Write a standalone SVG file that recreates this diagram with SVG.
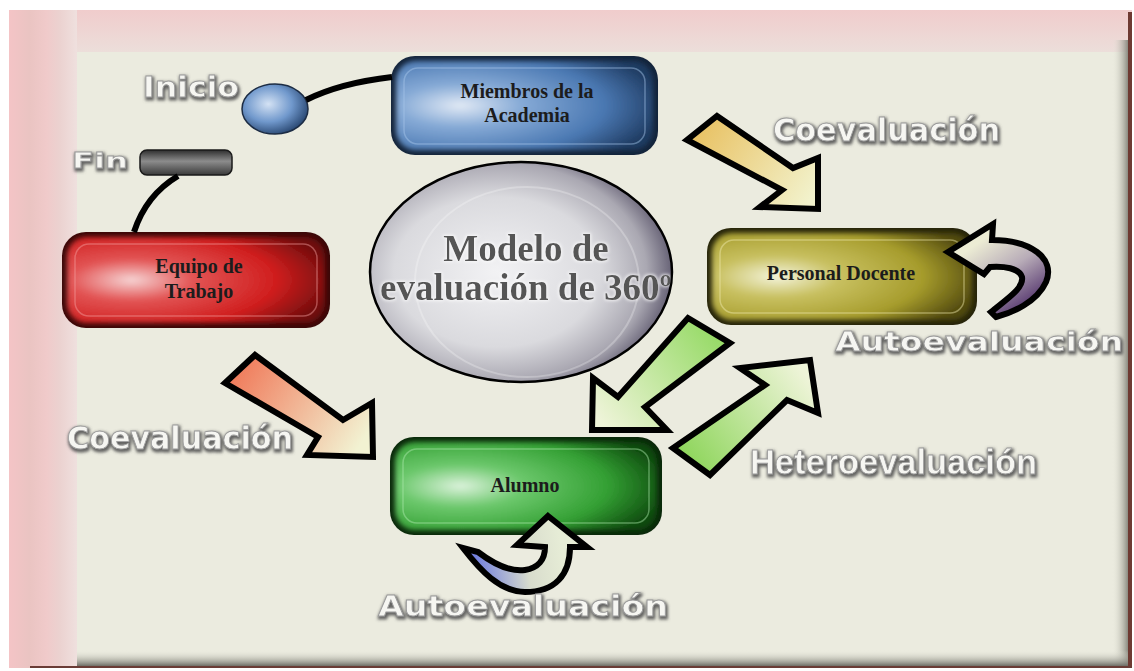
<svg xmlns="http://www.w3.org/2000/svg" width="1134" height="671" viewBox="0 0 1134 671">
<defs>
<style>
.lbl{font-family:"DejaVu Sans","Liberation Sans",sans-serif;font-weight:bold;fill:#f6f6f2;stroke:#9a9a9a;stroke-width:0.8;filter:url(#glow)}
.lbl2{font-family:"Liberation Sans",Arial,sans-serif;font-weight:bold;fill:#f6f6f2;stroke:#9a9a9a;stroke-width:0.8;filter:url(#glow)}
.ntxt{font-family:"Liberation Serif","Times New Roman",serif;font-weight:bold;font-size:20px;fill:#1c1c1c;text-anchor:middle}
.arw{stroke:#000;stroke-width:6;stroke-linejoin:miter;stroke-miterlimit:6}
.line{fill:none;stroke:#000;stroke-width:6;stroke-linecap:butt}
</style>
<filter id="glow" x="-10%" y="-40%" width="120%" height="180%">
<feMorphology in="SourceAlpha" operator="dilate" radius="1.2" result="d"/>
<feGaussianBlur in="d" stdDeviation="1.8" result="b"/>
<feOffset in="b" dx="1" dy="2" result="o"/>
<feFlood flood-color="#555555" flood-opacity="0.9"/>
<feComposite in2="o" operator="in" result="s"/>
<feMerge><feMergeNode in="s"/><feMergeNode in="SourceGraphic"/></feMerge>
</filter>
<filter id="soft" x="-5%" y="-5%" width="110%" height="110%"><feGaussianBlur stdDeviation="2.5"/></filter>
<filter id="halo" x="-5%" y="-20%" width="110%" height="140%">
<feMorphology in="SourceAlpha" operator="dilate" radius="1" result="d"/>
<feGaussianBlur in="d" stdDeviation="1.5" result="b"/>
<feFlood flood-color="#ffffff" flood-opacity="0.7"/>
<feComposite in2="b" operator="in" result="s"/>
<feMerge><feMergeNode in="s"/><feMergeNode in="SourceGraphic"/></feMerge>
</filter>
<linearGradient id="topBand" x1="0" y1="0" x2="0" y2="1">
<stop offset="0" stop-color="#f0cccc"/><stop offset="1" stop-color="#ecdeda"/>
</linearGradient>
<linearGradient id="leftBand" x1="0" y1="0" x2="1" y2="0">
<stop offset="0" stop-color="#f4c4c6"/><stop offset="0.3" stop-color="#eac4c2"/><stop offset="0.55" stop-color="#f0caca"/><stop offset="0.75" stop-color="#ebd2d0"/><stop offset="1" stop-color="#efe0de"/>
</linearGradient>
<linearGradient id="rightShade" x1="0" y1="0" x2="1" y2="0">
<stop offset="0" stop-color="#ebebdf" stop-opacity="0"/><stop offset="1" stop-color="#7e7e74"/>
</linearGradient>
<linearGradient id="botShade" x1="0" y1="0" x2="0" y2="1">
<stop offset="0" stop-color="#ebebdf" stop-opacity="0"/><stop offset="1" stop-color="#6e6e66"/>
</linearGradient>
<radialGradient id="gBlue" cx="0.25" cy="0.5" r="0.8">
<stop offset="0" stop-color="#e2eaf5"/><stop offset="0.3" stop-color="#86aad6"/><stop offset="0.7" stop-color="#4a78b2"/><stop offset="1" stop-color="#1e3a60"/>
</radialGradient>
<radialGradient id="gRed" cx="0.25" cy="0.5" r="0.8">
<stop offset="0" stop-color="#f6d4d4"/><stop offset="0.3" stop-color="#e25454"/><stop offset="0.7" stop-color="#d01e1e"/><stop offset="1" stop-color="#6e0c0c"/>
</radialGradient>
<radialGradient id="gOlive" cx="0.25" cy="0.5" r="0.8">
<stop offset="0" stop-color="#f4f4dc"/><stop offset="0.3" stop-color="#c8c060"/><stop offset="0.7" stop-color="#a69c2c"/><stop offset="1" stop-color="#50480e"/>
</radialGradient>
<radialGradient id="gGreen" cx="0.25" cy="0.5" r="0.8">
<stop offset="0" stop-color="#dcf2dc"/><stop offset="0.3" stop-color="#6cc86c"/><stop offset="0.7" stop-color="#34a034"/><stop offset="1" stop-color="#0e4a0e"/>
</radialGradient>
<radialGradient id="gInicio" cx="0.4" cy="0.4" r="0.65">
<stop offset="0" stop-color="#d4e2f4"/><stop offset="0.55" stop-color="#7098cc"/><stop offset="1" stop-color="#26446e"/>
</radialGradient>
<linearGradient id="gFin" x1="0" y1="0" x2="0" y2="1">
<stop offset="0" stop-color="#2e2e2e"/><stop offset="0.45" stop-color="#8c8c8c"/><stop offset="1" stop-color="#3a3a3a"/>
</linearGradient>
<radialGradient id="gCenter" cx="0.42" cy="0.5" r="0.62">
<stop offset="0" stop-color="#f2f2f4"/><stop offset="0.55" stop-color="#dadade"/><stop offset="0.8" stop-color="#aaa8b2"/><stop offset="1" stop-color="#48425a"/>
</radialGradient>
<clipPath id="cClip"><ellipse cx="521" cy="272" rx="150" ry="109"/></clipPath>
<linearGradient id="a1" gradientUnits="userSpaceOnUse" x1="695" y1="125" x2="810" y2="200">
<stop offset="0" stop-color="#e8c060"/><stop offset="1" stop-color="#f2f2cc"/>
</linearGradient>
<linearGradient id="a2" gradientUnits="userSpaceOnUse" x1="235" y1="365" x2="360" y2="445">
<stop offset="0" stop-color="#f07858"/><stop offset="1" stop-color="#f2f2d2"/>
</linearGradient>
<linearGradient id="a3" gradientUnits="userSpaceOnUse" x1="715" y1="330" x2="600" y2="420">
<stop offset="0" stop-color="#96da66"/><stop offset="1" stop-color="#eef4d8"/>
</linearGradient>
<linearGradient id="a4" gradientUnits="userSpaceOnUse" x1="690" y1="460" x2="805" y2="375">
<stop offset="0" stop-color="#90d65e"/><stop offset="1" stop-color="#eef4d8"/>
</linearGradient>
<linearGradient id="a5" gradientUnits="userSpaceOnUse" x1="975" y1="245" x2="1020" y2="310">
<stop offset="0" stop-color="#ececd4"/><stop offset="0.5" stop-color="#b8acb8"/><stop offset="1" stop-color="#5a3c72"/>
</linearGradient>
<linearGradient id="a6" gradientUnits="userSpaceOnUse" x1="470" y1="555" x2="560" y2="540">
<stop offset="0" stop-color="#6a78e0"/><stop offset="0.6" stop-color="#d8dccc"/><stop offset="1" stop-color="#e6ecd6"/>
</linearGradient>
</defs>

<g id="frame">
<rect x="0" y="0" width="1134" height="671" fill="#ffffff"/>
<rect x="9" y="10" width="1123" height="658" fill="#f0d0d0"/>
<rect x="9" y="10" width="1120" height="42" fill="url(#topBand)"/>
<rect x="9" y="10" width="68" height="658" fill="url(#leftBand)"/>
<rect x="77" y="52" width="1052" height="616" fill="#ebebdf"/>
<rect x="1112" y="40" width="17" height="628" fill="url(#rightShade)"/>
<rect x="77" y="650" width="1052" height="16" fill="url(#botShade)"/>
<rect x="1128" y="12" width="4" height="656" fill="#6e3a32"/>
<rect x="30" y="666" width="1102" height="2" fill="#6a3c36"/>
</g>

<g id="node-inicio">
<ellipse cx="275" cy="109" rx="33" ry="25" fill="url(#gInicio)" stroke="#1c2c44" stroke-width="1.5"/>
<text class="lbl" x="143" y="97" font-size="28" textLength="96" lengthAdjust="spacingAndGlyphs">Inicio</text>
</g>

<g id="node-fin">
<rect x="140" y="150" width="92" height="25" rx="7" fill="url(#gFin)" stroke="#1a1a1a" stroke-width="1.5"/>
<text class="lbl" x="72" y="168" font-size="22" textLength="56" lengthAdjust="spacingAndGlyphs">Fin</text>
</g>

<g id="node-miembros">
<rect x="391" y="56" width="267" height="99" rx="24" fill="#14243a"/>
<rect x="396" y="61" width="257" height="89" rx="20" fill="url(#gBlue)" filter="url(#soft)"/>
<rect x="404" y="68" width="241" height="76" rx="14" fill="none" stroke="#a8c8ec" stroke-opacity="0.45" stroke-width="1.5"/>
<text class="ntxt" x="527" y="98">Miembros de la</text>
<text class="ntxt" x="527" y="122">Academia</text>
</g>

<g id="node-equipo">
<rect x="62" y="232" width="268" height="96" rx="24" fill="#3a0808"/>
<rect x="67" y="237" width="258" height="86" rx="20" fill="url(#gRed)" filter="url(#soft)"/>
<rect x="75" y="244" width="242" height="72" rx="14" fill="none" stroke="#f4a0a0" stroke-opacity="0.45" stroke-width="1.5"/>
<text class="ntxt" x="199" y="273">Equipo de</text>
<text class="ntxt" x="199" y="298">Trabajo</text>
</g>

<g id="node-modelo">
<ellipse cx="521" cy="272" rx="151" ry="110" fill="url(#gCenter)" stroke="#000" stroke-width="2.5"/>
<ellipse cx="527" cy="282" rx="112" ry="95" fill="none" stroke="#ffffff" stroke-opacity="0.25" stroke-width="2"/>
<g clip-path="url(#cClip)" filter="url(#halo)">
<text x="526" y="261" font-family="Liberation Serif,Times New Roman,serif" font-weight="bold" font-size="37" fill="#555555" text-anchor="middle">Modelo de</text>
<text x="380" y="300" font-family="Liberation Serif,Times New Roman,serif" font-weight="bold" font-size="37" fill="#555555">evaluación de 360º</text>
</g>
</g>

<g id="node-personal">
<rect x="707" y="228" width="270" height="97" rx="24" fill="#26240a"/>
<rect x="712" y="233" width="260" height="87" rx="20" fill="url(#gOlive)" filter="url(#soft)"/>
<rect x="720" y="240" width="244" height="73" rx="14" fill="none" stroke="#f0ecb0" stroke-opacity="0.45" stroke-width="1.5"/>
<text class="ntxt" x="841" y="280">Personal Docente</text>
</g>

<g id="node-alumno">
<rect x="390" y="437" width="272" height="98" rx="24" fill="#0a280a"/>
<rect x="395" y="442" width="262" height="88" rx="20" fill="url(#gGreen)" filter="url(#soft)"/>
<rect x="403" y="449" width="246" height="74" rx="14" fill="none" stroke="#b0ecb0" stroke-opacity="0.45" stroke-width="1.5"/>
<text class="ntxt" x="525" y="492">Alumno</text>
</g>

<g id="connectors">
<path class="line" d="M306,100 Q340,83 392,77"/>
<path class="line" d="M178,176 Q146,195 134,232"/>
<polygon class="arw" fill="url(#a1)" points="717,116 793,168 818,158 818,209 760,207 782,190 687,140"/>
<polygon class="arw" fill="url(#a2)" points="255,355 343,420 372,403 373,457 307,455 318,437 225,383"/>
<polygon class="arw" fill="url(#a3)" points="688,318 730,343 645,407 667,430 592,430 593,378 618,397"/>
<polygon class="arw" fill="url(#a4)" points="673,448 710,475 787,400 818,413 810,360 740,368 765,385"/>
<path class="arw" fill="url(#a5)" d="M948,252 L993,224 L992,240 C1030,240 1056,258 1046,282 C1037,302 1012,313 996,317 L991,312 C1008,298 1024,288 1022,277 C1019,268 1004,266 990,267 L984,274 Z"/>
<path class="arw" fill="url(#a6)" d="M548,516 L587,547 L570,547 C570,575 555,592 525,592 C500,592 480,570 463,548 L478,552 C495,565 510,572 525,570 C538,568 545,560 545,547 L517,545 Z"/>
</g>

<g id="labels">
<text class="lbl" x="773" y="141" font-size="32" textLength="227" lengthAdjust="spacingAndGlyphs">Coevaluación</text>
<text class="lbl" x="67" y="449" font-size="32" textLength="226" lengthAdjust="spacingAndGlyphs">Coevaluación</text>
<text class="lbl" x="835" y="351" font-size="27" textLength="288" lengthAdjust="spacingAndGlyphs">Autoevaluación</text>
<text class="lbl" x="378" y="616" font-size="29" textLength="290" lengthAdjust="spacingAndGlyphs">Autoevaluación</text>
<text class="lbl2" x="750" y="474" font-size="35" textLength="287" lengthAdjust="spacingAndGlyphs">Heteroevaluación</text>
</g>
</svg>
